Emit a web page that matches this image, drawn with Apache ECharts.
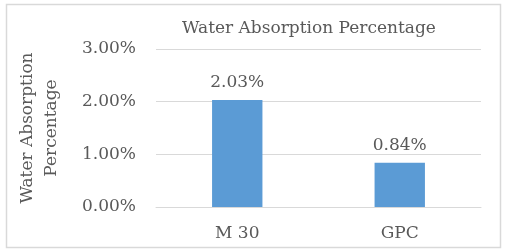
<!DOCTYPE html>
<html><head><meta charset="utf-8">
<script src="https://cdn.jsdelivr.net/npm/echarts@6/dist/echarts.min.js"></script>
<style>html,body{margin:0;padding:0;background:#fff}#c{width:505px;height:250px}</style>
</head><body><div id="c"></div>
<script>
var categories = ['M 30', 'GPC'];
var values = [2.03, 0.84];
var chartTitle = 'Water Absorption Percentage';
var yName = 'Water Absorption\nPercentage';

var FONT = 'DejaVu Serif';
var TXT = '#595959';
var chart = echarts.init(document.getElementById('c'), null, {renderer: 'canvas'});
chart.setOption({
  backgroundColor: '#fff',
  animation: false,
  title: {
    text: chartTitle, left: 177, top: 15,
    textStyle: {fontFamily: FONT, fontSize: 17, fontWeight: 'normal', color: TXT}
  },
  graphic: [{
    type: 'rect', left: 4, top: 2, shape: {width: 494, height: 243},
    style: {fill: 'none', stroke: '#d9d9d9', lineWidth: 1.5}, z: -1
  }],
  grid: {left: 156, right: 24, top: 49, bottom: 43},
  xAxis: {
    type: 'category', data: categories,
    axisLine: {lineStyle: {color: '#d9d9d9', width: 1}},
    axisTick: {show: false},
    axisLabel: {fontFamily: FONT, fontSize: 17, color: TXT, margin: 18}
  },
  yAxis: {
    type: 'value', min: 0, max: 3, interval: 1,
    name: yName, nameLocation: 'middle', nameRotate: 90, nameGap: 92,
    nameTextStyle: {fontFamily: FONT, fontSize: 17, color: TXT, lineHeight: 24},
    axisLine: {show: false}, axisTick: {show: false},
    splitLine: {lineStyle: {color: '#d9d9d9', width: 1}},
    axisLabel: {fontFamily: FONT, fontSize: 17, color: TXT, margin: 20,
      formatter: function (v) { return v.toFixed(2) + '%'; }}
  },
  series: [{
    type: 'bar', data: values, barWidth: '31%',
    itemStyle: {color: '#5b9bd5'},
    label: {show: true, position: 'top', distance: 9, fontFamily: FONT, fontSize: 17, color: TXT,
      formatter: function (p) { return p.value.toFixed(2) + '%'; }}
  }]
});
</script></body></html>
